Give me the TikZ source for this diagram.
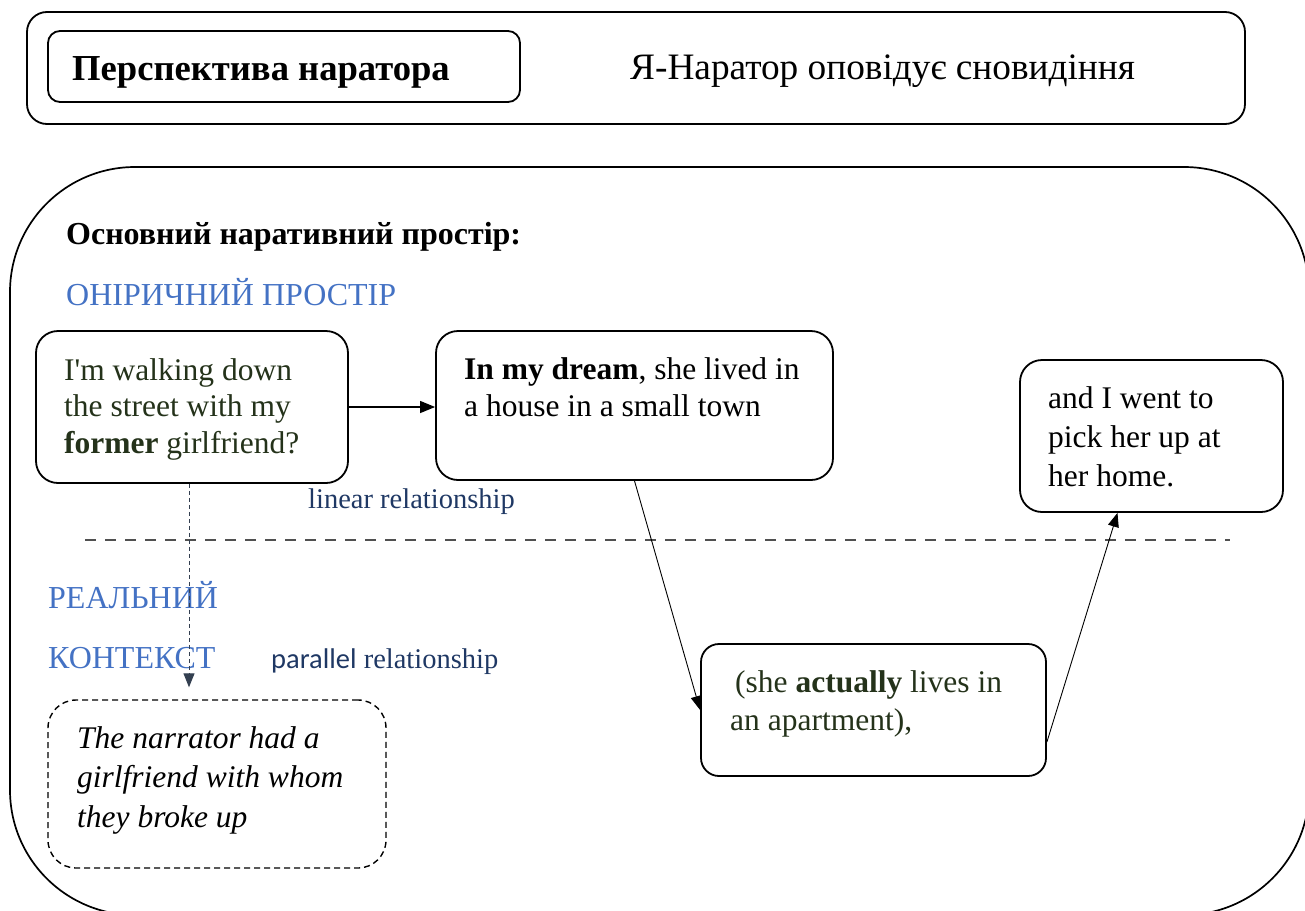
\documentclass[tikz,border=0pt]{standalone}
\usepackage{fontspec}
\setmainfont{Liberation Serif}
\newfontfamily\calib{Carlito}
\usetikzlibrary{arrows.meta}
\definecolor{lblue}{RGB}{68,114,196}
\definecolor{navy}{RGB}{31,56,100}
\definecolor{dgreen}{RGB}{36,50,26}
\definecolor{slate}{RGB}{51,63,80}
\definecolor{dashgray}{RGB}{80,80,80}
\tikzset{
  frame/.style={draw=black, line width=1.7pt},
  box/.style={draw=black, line width=1.8pt, rounded corners=22pt, inner sep=0pt},
  txt/.style={inner sep=0pt, align=left, anchor=base west, font=\fontsize{31.5}{37}\selectfont},
  lbl/.style={inner sep=0pt, anchor=base west, font=\fontsize{32}{37}\selectfont},
  rel/.style={inner sep=0pt, anchor=base west, text=navy, font=\fontsize{28.5}{32}\selectfont},
  conn/.style={line width=0.9pt, -{Triangle[length=14pt,width=11pt]}},
}
\begin{document}
\begin{tikzpicture}[x=1pt,y=-1pt]
\useasboundingbox (0,0) rectangle (1305,910);
\begin{scope}
\clip (0,0) rectangle (1305,910);
\draw[frame, rounded corners=125pt] (10,167) rectangle (1309,915);
\end{scope}
% top frame
\node[box, rounded corners=20pt, minimum width=1218pt, minimum height=112pt] (top) at (636,68) {};
\node[box, rounded corners=12pt, minimum width=472pt, minimum height=71pt] (inner) at (284,66.5) {};
\node[inner sep=0pt, anchor=base west, font=\fontsize{36.6}{40}\selectfont\bfseries] (persp) at (72,80) {Перспектива наратора};
\node[inner sep=0pt, anchor=base west, font=\fontsize{37.3}{40}\selectfont] (narr) at (630,79) {Я-Наратор оповідує сновидіння};
% labels
\node[lbl, font=\fontsize{32}{37}\selectfont\bfseries] (mainsp) at (66,244) {Основний наративний простір:};
\node[lbl, text=lblue] (oniric) at (66,305) {ОНІРИЧНИЙ ПРОСТІР};
\node[lbl, text=lblue] (real1) at (48,608) {РЕАЛЬНИЙ};
\node[lbl, text=lblue] (real2) at (48,668) {КОНТЕКСТ};
\node[rel] (linrel) at (308,508) {linear relationship};
\node[rel] (parrel) at (271,668) {{\calib parallel} relationship};
% boxes
\node[box, minimum width=312pt, minimum height=152pt] (a) at (192,407) {};
\node[box, minimum width=397pt, minimum height=149pt] (b) at (634.5,405.5) {};
\node[box, minimum width=263pt, minimum height=152pt] (c) at (1151.5,436) {};
\node[box, rounded corners=18pt, minimum width=345pt, minimum height=132pt] (e) at (873.5,710) {};
\node[box, line width=1.4pt, dash pattern=on 6pt off 4pt, rounded corners=28pt, minimum width=338pt, minimum height=168pt] (d) at (217,784) {};
% box texts (base anchor = last line)
\node[txt, text=dgreen, font=\fontsize{31.5}{36.5}\selectfont] (ta) at (64,453) {I\textquotesingle m walking down\\the street with my\\\textbf{former} girlfriend?};
\node[txt] (tb) at (464,416) {\textbf{In my dream}, she lived in\\a house in a small town};
\node[txt, font=\fontsize{31.5}{39}\selectfont] (tc) at (1048,486) {and I went to\\pick her up at\\her home.};
\node[txt, text=dgreen, font=\fontsize{31.5}{38}\selectfont] (te) at (735,730) {(she \textbf{actually} lives in\\\hspace{-5pt}an apartment),};
\node[txt, font=\fontsize{31.5}{39.5}\selectfont\itshape] (td) at (77,827) {The narrator had a\\girlfriend with whom\\they broke up};
% separator
\coordinate (sepL) at (85,540);
\coordinate (sepR) at (1230,540);
\draw[dashgray, line width=1.6pt, dash pattern=on 11pt off 9pt] (sepL) -- (sepR);
% connectors
\draw[conn, line width=1.2pt, -{Triangle[length=15pt,width=12pt]}] (a.east) -- (a.east -| b.west);
\draw[conn] (b.south) -- (e.west);
\draw[conn] ([yshift=-32pt]e.east) -- ([xshift=-34pt]c.south);
\draw[slate, line width=1pt, dash pattern=on 4pt off 3pt, -{Triangle[length=14pt,width=11pt]}, shorten >=12pt] ([xshift=-3pt]a.south) -- ([xshift=-3pt]a.south |- d.north);
\end{tikzpicture}
\end{document}
